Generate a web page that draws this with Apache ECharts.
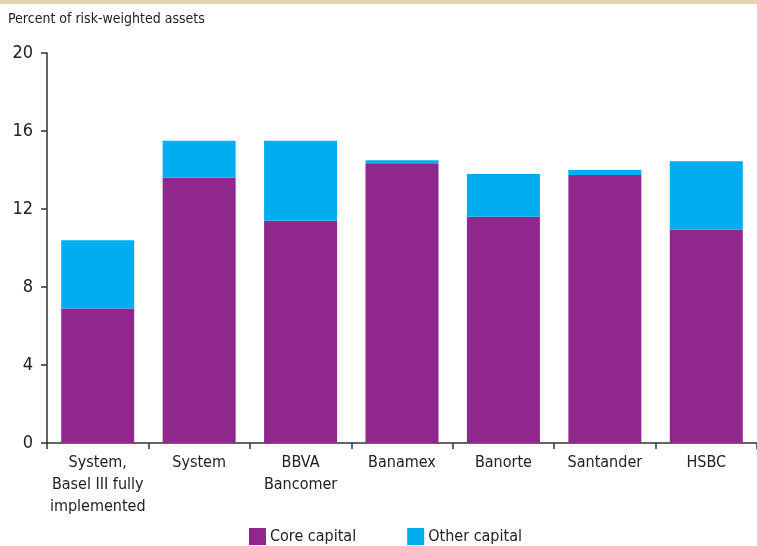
<!DOCTYPE html>
<html>
<head>
<meta charset="utf-8">
<script src="https://cdn.jsdelivr.net/npm/echarts@6/dist/echarts.min.js"></script>
<style>
  html, body { margin: 0; padding: 0; background: #fff; }
  #chart { width: 757px; height: 546px; }
</style>
</head>
<body>
<div id="chart"></div>
<script>
// 类目与数据
var categories = ['System,\nBasel III fully\nimplemented', 'System', 'BBVA\nBancomer', 'Banamex', 'Banorte', 'Santander', 'HSBC'];
var coreCapital = [6.9, 13.6, 11.4, 14.35, 11.6, 13.75, 10.95];
var otherCapital = [3.5, 1.9, 4.1, 0.15, 2.2, 0.25, 3.5];
var yTicks = [0, 4, 8, 12, 16, 20];

var font = '"Liberation Sans Narrow", "DejaVu Sans Condensed", sans-serif';
var myChart = echarts.init(document.getElementById('chart'));

var option = {
  animation: false,
  textStyle: { fontFamily: font },
  graphic: [
    { type: 'rect', left: 0, top: 0, shape: { width: 757, height: 4 }, style: { fill: '#E5D2AA' } },
    { type: 'text', left: 8, top: 12, style: { text: 'Percent of risk-weighted assets', fontFamily: font, fontSize: 14, fill: '#222' } }
  ],
  legend: {
    left: 249,
    top: 528,
    padding: 0,
    itemWidth: 17,
    itemHeight: 17,
    itemGap: 51,
    icon: 'rect',
    textStyle: { fontFamily: font, fontSize: 16, color: '#222', padding: [0, 0, 0, -1] },
    data: ['Core capital', 'Other capital']
  },
  grid: { left: 47, right: 0, top: 53, bottom: 103 },
  xAxis: {
    type: 'category',
    data: categories,
    axisLine: { lineStyle: { color: '#333', width: 1.5 } },
    axisTick: { show: true, length: 6, lineStyle: { color: '#333', width: 1.5 } },
    axisLabel: { fontFamily: font, fontSize: 16, lineHeight: 22, color: '#222', margin: 9, interval: 0 }
  },
  yAxis: {
    type: 'value',
    min: yTicks[0],
    max: yTicks[yTicks.length - 1],
    interval: 4,
    splitLine: { show: false },
    axisLine: { show: true, lineStyle: { color: '#333', width: 1.5 } },
    axisTick: { show: true, length: 6, lineStyle: { color: '#333', width: 1.5 } },
    axisLabel: { fontFamily: font, fontSize: 18, color: '#222', margin: 14 }
  },
  series: [
    {
      name: 'Core capital',
      type: 'bar',
      stack: 'cap',
      barWidth: 73,
      itemStyle: { color: '#90278C' },
      data: coreCapital
    },
    {
      name: 'Other capital',
      type: 'bar',
      stack: 'cap',
      barWidth: 73,
      itemStyle: { color: '#00AEEF' },
      data: otherCapital
    }
  ]
};
myChart.setOption(option);
</script>
</body>
</html>
